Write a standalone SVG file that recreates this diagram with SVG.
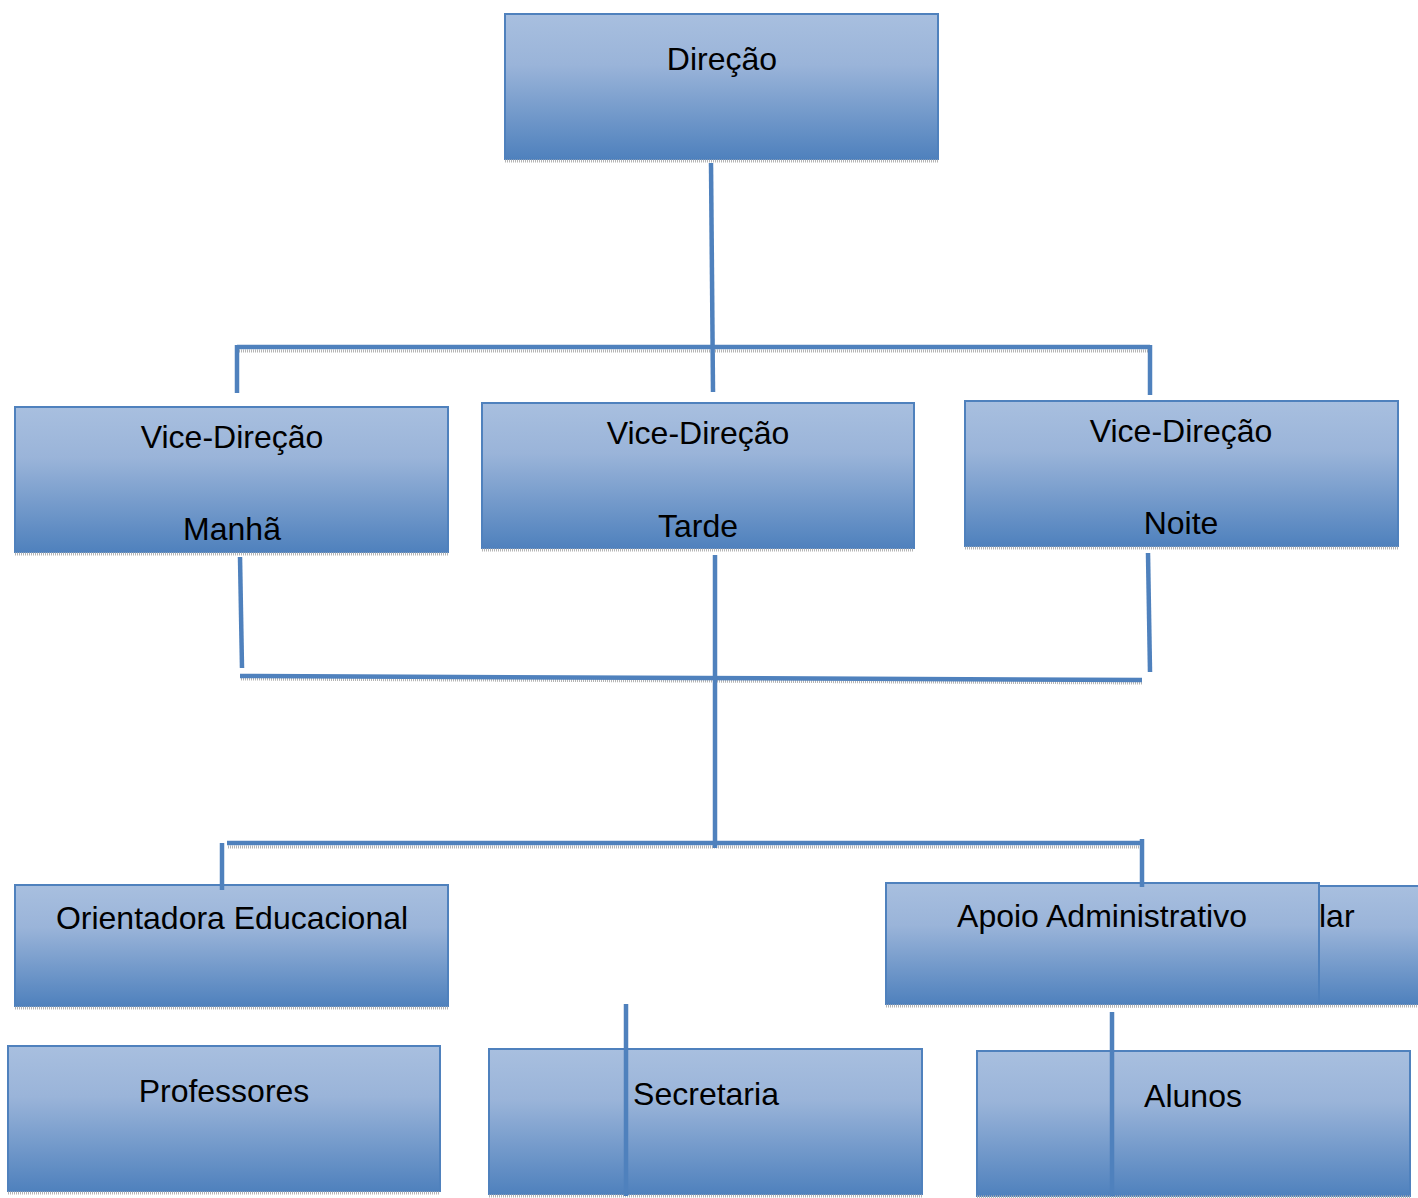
<svg xmlns="http://www.w3.org/2000/svg" width="1418" height="1198" viewBox="0 0 1418 1198">
<defs>
<linearGradient id="g" x1="0" y1="0" x2="0" y2="1">
<stop offset="0" stop-color="#a8bfdf"/>
<stop offset="0.35" stop-color="#9ab4d9"/>
<stop offset="1" stop-color="#4f81bd"/>
</linearGradient>
</defs>
<style>
.box{fill:url(#g);stroke:#4f81bd;stroke-width:2}
.sh{stroke:#b4b4b4;stroke-width:3;stroke-dasharray:1 1;fill:none}
.ln{stroke:#4f81bd;stroke-width:4.5;fill:none}
.t{font-family:"Liberation Sans",Arial,sans-serif;font-size:32px;fill:#000;text-anchor:middle}
</style>
<g id="escolar">
<rect class="box" x="1100" y="886" width="330" height="118"/>
<line class="sh" x1="1100" y1="1006" x2="1418" y2="1006"/>
<text class="t" x="1319" y="927" style="text-anchor:start">lar</text>
</g>
<g id="direcao">
<rect class="box" x="505" y="14" width="433" height="145"/>
<line class="sh" x1="505" y1="161" x2="938" y2="161"/>
<text class="t" x="722" y="70">Direção</text>
</g>
<g id="vice-manha">
<rect class="box" x="15" y="407" width="433" height="145"/>
<line class="sh" x1="15" y1="554" x2="448" y2="554"/>
<text class="t" x="232" y="448">Vice-Direção</text>
<text class="t" x="232" y="540">Manhã</text>
</g>
<g id="vice-tarde">
<rect class="box" x="482" y="403" width="432" height="145"/>
<line class="sh" x1="482" y1="550" x2="914" y2="550"/>
<text class="t" x="698" y="444">Vice-Direção</text>
<text class="t" x="698" y="537">Tarde</text>
</g>
<g id="vice-noite">
<rect class="box" x="965" y="401" width="433" height="145"/>
<line class="sh" x1="965" y1="548" x2="1398" y2="548"/>
<text class="t" x="1181" y="442">Vice-Direção</text>
<text class="t" x="1181" y="534">Noite</text>
</g>
<g id="orientadora">
<rect class="box" x="15" y="885" width="433" height="121"/>
<line class="sh" x1="15" y1="1008" x2="448" y2="1008"/>
<text class="t" x="232" y="929">Orientadora Educacional</text>
</g>
<g id="apoio">
<rect class="box" x="886" y="883" width="433" height="121"/>
<line class="sh" x1="886" y1="1006" x2="1319" y2="1006"/>
<text class="t" x="1102" y="927">Apoio Administrativo</text>
</g>
<g id="professores">
<rect class="box" x="8" y="1046" width="432" height="145"/>
<line class="sh" x1="8" y1="1193" x2="440" y2="1193"/>
<text class="t" x="224" y="1102">Professores</text>
</g>
<g id="secretaria">
<rect class="box" x="489" y="1049" width="433" height="145"/>
<line class="sh" x1="489" y1="1196" x2="922" y2="1196"/>
<text class="t" x="706" y="1105">Secretaria</text>
</g>
<g id="alunos">
<rect class="box" x="977" y="1051" width="433" height="145"/>
<line class="sh" x1="977" y1="1197" x2="1410" y2="1197"/>
<text class="t" x="1193" y="1107">Alunos</text>
</g>
<g id="connectors">
<line class="sh" x1="239" y1="351" x2="1150" y2="351"/>
<line class="sh" x1="241" y1="679" x2="1142" y2="683"/>
<line class="sh" x1="228" y1="847" x2="1142" y2="847"/>
<line class="ln" x1="711" y1="163" x2="713" y2="392"/>
<line class="ln" x1="237" y1="347" x2="1150" y2="347"/>
<line class="ln" x1="237" y1="345" x2="237" y2="393"/>
<line class="ln" x1="1150" y1="345" x2="1150" y2="395"/>
<line class="ln" x1="240" y1="557" x2="242" y2="668"/>
<line class="ln" x1="240" y1="676" x2="1142" y2="680"/>
<line class="ln" x1="1148" y1="553" x2="1150" y2="672"/>
<line class="ln" x1="715" y1="555" x2="715" y2="848"/>
<line class="ln" x1="227" y1="843" x2="1142" y2="843"/>
<line class="ln" x1="222" y1="843" x2="222" y2="890"/>
<line class="ln" x1="1142" y1="839" x2="1142" y2="887"/>
<line class="ln" x1="626" y1="1004" x2="626" y2="1196"/>
<line class="ln" x1="1112" y1="1012" x2="1112" y2="1196"/>
</g>
</svg>
